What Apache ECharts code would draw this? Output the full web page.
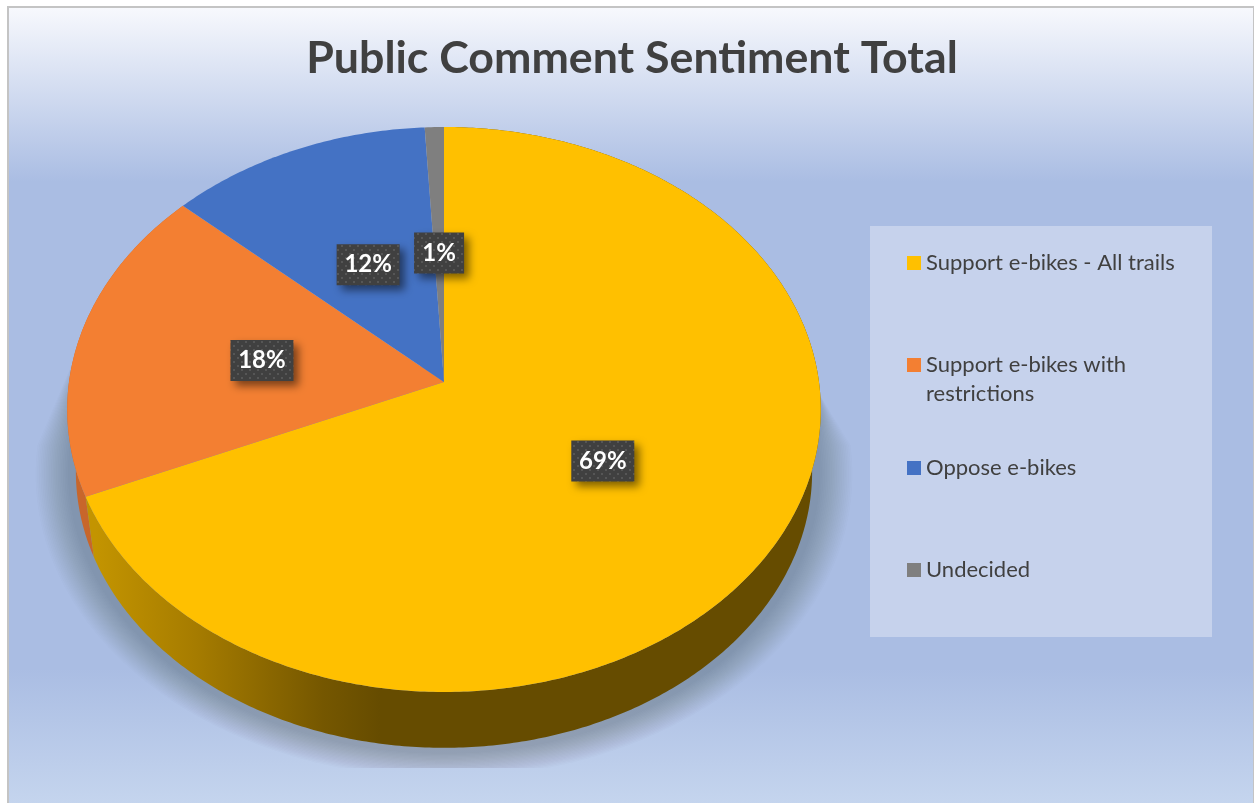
<!DOCTYPE html>
<html><head><meta charset="utf-8">
<style>html,body{margin:0;padding:0;background:#fff;overflow:hidden}#c{width:1254px;height:803px}</style>
<script src="https://cdn.jsdelivr.net/npm/echarts@6/dist/echarts.min.js"></script>
</head><body><div id="c"></div>
<script>
const titleText = 'Public Comment Sentiment Total';
const categories = ['Support e-bikes - All trails', 'Support e-bikes with restrictions', 'Oppose e-bikes', 'Undecided'];
const values = [68.55, 18.15, 12.4, 0.9];
const legendText = ['Support e-bikes - All trails', '\nSupport e-bikes with\nrestrictions', 'Oppose e-bikes', 'Undecided'];

// ---- styling and projection of the tilted disc
const colors = ['#ffc000', '#f37f32', '#4472c4', '#7f7f7f'];
const FONT = 'Lato, "Open Sans", sans-serif';
const apex = {x: 444, y: 382}, RX = 375, RY = 279.8, TILT = -0.0973;
const WALL_SCALE = 0.977, WALL_DROP = 63;
const labelFrac = [0.48, 0.5, 0.51, 0.51];
const total = values.reduce((a, b) => a + b, 0);

function proj(pct, frac, wall) {
  const t = pct / 100 * 2 * Math.PI, u = Math.sin(t), v = -Math.cos(t), w = 1 + TILT * v;
  const f = frac === undefined ? 1 : frac;
  let X = RX * u / w * f, Y = RY * v / w * f;
  if (wall) { X *= WALL_SCALE; Y = Y * WALL_SCALE + WALL_DROP; }
  return [apex.x + X, apex.y + Y];
}
function arc(a, b, wall) {
  const pts = [], n = Math.max(2, Math.ceil((b - a) * 6));
  for (let i = 0; i <= n; i++) pts.push(proj(a + (b - a) * i / n, 1, wall));
  return pts;
}
const dotCanvas = document.createElement('canvas');
dotCanvas.width = dotCanvas.height = 8;
(function () {
  const g = dotCanvas.getContext('2d');
  g.fillStyle = '#404040'; g.fillRect(0, 0, 8, 8);
  g.fillStyle = '#565656'; g.fillRect(1, 1, 2, 2); g.fillRect(5, 5, 2, 2);
})();

function renderSlice(i) {
  return function () {
    const start = values.slice(0, i).reduce((a, b) => a + b, 0) / total * 100;
    const end = start + values[i] / total * 100;
    const top = arc(start, end, false);
    const children = [];
    if (i < 2) {
      const wallFill = i === 0
        ? new echarts.graphic.LinearGradient(96, 0, 380, 0, [
            {offset: 0, color: '#c39400'}, {offset: 0.35, color: '#a67c00'},
            {offset: 0.8, color: '#755700'}, {offset: 1, color: '#664c00'}], true)
        : '#c8662b';
      children.push({type: 'polygon', z2: i === 0 ? 3 : 2,
        shape: {points: top.concat(arc(start, end, true).reverse())},
        style: {fill: wallFill}});
    }
    children.push({type: 'polygon', z2: 10,
      shape: {points: [[apex.x, apex.y]].concat(top)},
      style: {fill: colors[i]}});
    const c = proj((start + end) / 2, labelFrac[i]);
    const txt = Math.round(values[i] / total * 100) + '%';
    const w = txt.length === 2 ? 50 : 63, h = 41;
    children.push({type: 'rect', z2: 20,
      shape: {x: c[0] - w / 2, y: c[1] - h / 2 + 1, width: w, height: h},
      style: {fill: {image: dotCanvas, repeat: 'repeat'}, shadowBlur: 9, shadowOffsetX: 5, shadowOffsetY: 5, shadowColor: 'rgba(0,0,0,0.5)'}});
    children.push({type: 'text', z2: 21, x: c[0], y: c[1] + 1,
      style: {text: txt, fill: '#fff', align: 'center', verticalAlign: 'middle',
        font: 'bold 24px ' + FONT}});
    return {type: 'group', children};
  };
}

// soft cast shadow under the disc, stacked from faint expanding layers
function shadowLayers() {
  const layers = [], cy = apex.y + WALL_DROP, steps = 20;
  for (let k = steps; k >= 1; k--) {
    const d = 6 + k * 1.7;
    const pts = arc(25, 75, true).map(p => [
      apex.x + (p[0] - apex.x) * (1 + d / 366),
      Math.min(768, cy + (p[1] - cy) * (1 + 0.75 * d / 303))
    ]);
    layers.push({type: 'polygon', z: -9, silent: true,
      shape: {points: [[818, 392]].concat(pts, [[80, 345]])},
      style: {fill: 'rgba(66,80,92,0.016)'}});
  }
  return layers;
}

const chart = echarts.init(document.getElementById('c'), null, {renderer: 'canvas'});
const legendIconCenter = [263, 365, 468, 570];
chart.setOption({
  animation: false,
  title: {text: titleText, left: 627, textAlign: 'center', top: 31,
    textStyle: {fontFamily: FONT, fontWeight: 'bold', fontSize: 44.7, color: '#404040'}},
  tooltip: {show: false},
  legend: categories.map((name, i) => ({
    data: [{name: name, icon: 'rect', itemStyle: {color: colors[i]}}],
    formatter: () => legendText[i],
    left: 907, top: legendIconCenter[i] - (i === 1 ? 43.5 : 14.5), padding: 0,
    itemWidth: 14, itemHeight: 14, selectedMode: false,
    textStyle: {fontFamily: FONT, fontSize: 22, lineHeight: 29, color: '#404040'}
  })),
  graphic: {elements: [
    {type: 'rect', z: -10, silent: true, shape: {x: 8, y: 7, width: 1246, height: 797},
      style: {stroke: '#c4c4c4', lineWidth: 2,
        fill: new echarts.graphic.LinearGradient(0, 0, 0, 1, [
          {offset: 0, color: '#f8f9fd'}, {offset: 0.22, color: '#aabde3'},
          {offset: 0.83, color: '#aabde3'}, {offset: 1, color: '#c5d5ee'}])}}
  ].concat(shadowLayers(), [
    {type: 'rect', z: -7, silent: true, shape: {x: 870, y: 226, width: 342, height: 411},
      style: {fill: 'rgba(255,255,255,0.33)'}}
  ])},
  series: categories.map((name, i) => ({
    type: 'custom', name: name, coordinateSystem: 'none', silent: true,
    itemStyle: {color: colors[i]},
    data: [values[i]],
    renderItem: renderSlice(i)
  }))
});
</script></body></html>
